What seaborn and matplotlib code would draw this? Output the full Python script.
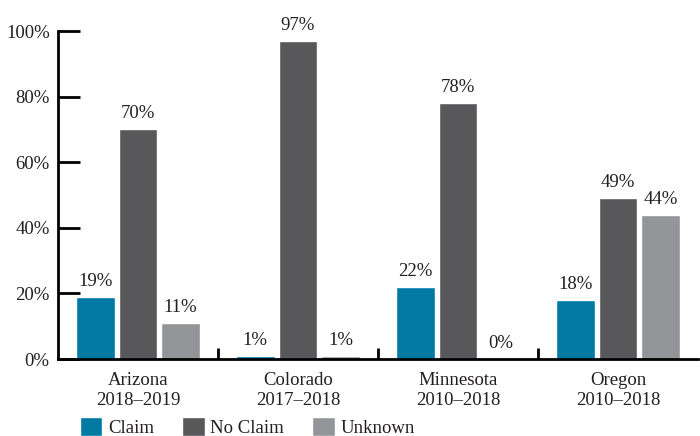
import matplotlib
matplotlib.use("Agg")
import matplotlib.pyplot as plt
import seaborn as sns
import pandas as pd
from matplotlib.ticker import MultipleLocator, FixedLocator

sns.set_style("white")
plt.rcParams["font.family"] = ["Liberation Serif", "DejaVu Serif"]

states = ["Arizona\n2018\u20132019", "Colorado\n2017\u20132018",
          "Minnesota\n2010\u20132018", "Oregon\n2010\u20132018"]
series = ["Claim", "No Claim", "Unknown"]
claim = [19, 1, 22, 18]
no_claim = [70, 97, 78, 49]
unknown = [11, 1, 0, 44]
colors = ["#0079A3", "#58585A", "#949599"]
text_color = "#231F20"

rows = []
for name, vals in zip(series, [claim, no_claim, unknown]):
    for st, v in zip(states, vals):
        rows.append({"state": st, "status": name, "pct": v})
df = pd.DataFrame(rows)

fig = plt.figure(figsize=(7, 4.36), dpi=100)
ax = fig.add_axes([58 / 700, 1 - 359 / 436, 640 / 700, 328 / 436])

sns.barplot(data=df, x="state", y="pct", hue="status", hue_order=series,
            palette=colors, width=0.8, gap=0.1, saturation=1, ax=ax,
            errorbar=None, legend=True)

ax.set_xlim(-0.5, 3.5)
ax.set_ylim(0, 100)
ax.set_xlabel("")
ax.set_ylabel("")

for side in ["top", "right"]:
    ax.spines[side].set_visible(False)
for side in ["left", "bottom"]:
    ax.spines[side].set_color("black")
    ax.spines[side].set_linewidth(2)

ax.yaxis.set_major_locator(MultipleLocator(20))
ax.set_yticklabels([f"{int(t)}%" for t in ax.get_yticks()])
ax.tick_params(axis="y", direction="in", length=16, width=2, color="black",
               labelsize=13.5, labelcolor=text_color, pad=6, left=True)
ax.tick_params(axis="x", which="major", length=0, labelsize=13.5,
               labelcolor=text_color, pad=9)
for lbl in ax.get_xticklabels():
    lbl.set_linespacing(1.25)
ax.xaxis.set_minor_locator(FixedLocator([0.5, 1.5, 2.5]))
ax.tick_params(axis="x", which="minor", direction="in", length=8, width=2,
               color="black", bottom=True)

for cont in ax.containers:
    ax.bar_label(cont, labels=[f"{v:.0f}%" for v in cont.datavalues],
                 padding=5, fontsize=13.5, color=text_color)

handles, labels = ax.get_legend_handles_labels()
ax.legend_.remove()
fig.legend(handles, labels, loc="lower left", bbox_to_anchor=(78 / 700, -0.006),
           ncol=3, frameon=False, fontsize=13.5, handlelength=1.2,
           handleheight=1.2, handletextpad=0.3, columnspacing=1.5,
           borderpad=0.1, borderaxespad=0.0, labelcolor=text_color)

fig.savefig("out.png", dpi=100)
